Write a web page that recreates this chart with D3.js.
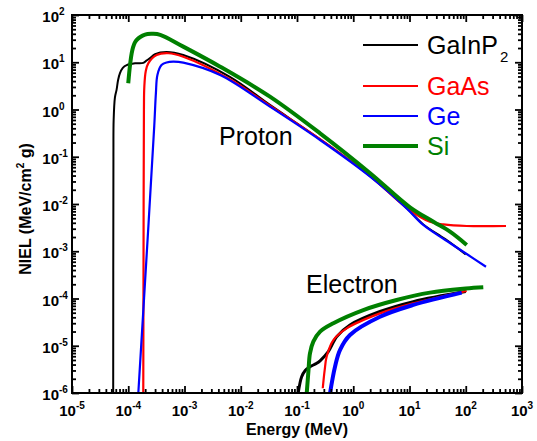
<!DOCTYPE html>
<html>
<head>
<meta charset="utf-8">
<script src="https://cdn.jsdelivr.net/npm/d3@7"></script>
<style>
body { margin:0; background:#fff; }
svg text { font-family: "Liberation Sans", Arial, sans-serif; }
</style>
</head>
<body>
<div id="chart"></div>
<script>
// proton NIEL curves [energy MeV, NIEL]
var protonGaInP2 = [[5.4e-5,1e-6],[5.45e-5,0.1],[5.5e-5,0.6],[5.8e-5,1.8],[6.2e-5,2.6],[6.6e-5,4.2],[7.1e-5,5.8],[8e-5,7.6],[9.4e-5,8.7],[1.32e-4,9.5],[1.85e-4,9.7],[2.1e-4,10.8],[2.44e-4,12.2],[3e-4,14.9],[4.8e-4,16.5],[9.5e-4,14.2],[6.4e-3,4.9],[0.033,1.25],[0.257,0.235],[2.0,0.039],[8.9,8.2e-3],[17.6,3.7e-3],[43.3,1.8e-3],[100,8.6e-4]];
var protonGaAs = [[1.85e-4,1e-6],[1.87e-4,1e-3],[1.9e-4,1.0],[1.93e-4,3.0],[2.05e-4,6.5],[2.27e-4,9.5],[3.2e-4,14.2],[5.15e-4,15.5],[9.5e-4,13.1],[6.4e-3,4.36],[0.033,1.2],[0.257,0.235],[2.0,0.039],[8.9,8.3e-3],[23,4.2e-3],[40,3.7e-3],[104,3.42e-3],[520,3.42e-3]];
var protonGe = [[1.51e-4,1e-6],[2.3e-4,4e-3],[2.9e-4,0.45],[3.1e-4,2.2],[3.3e-4,5.4],[3.9e-4,8.7],[4.8e-4,9.9],[6.3e-4,10.3],[9.5e-4,9.8],[4.3e-3,5.37],[0.033,1.15],[0.257,0.226],[2.0,0.038],[8.9,8.1e-3],[17.6,3.6e-3],[43.3,1.73e-3],[104,8.75e-4],[229,4.7e-4]];
var protonSi = [[1.0e-4,3.6],[1.04e-4,6],[1.09e-4,10],[1.15e-4,15.5],[1.22e-4,21],[1.32e-4,26.5],[1.51e-4,32],[1.8e-4,36.5],[2.2e-4,39.5],[2.7e-4,40],[3.7e-4,38],[9.5e-4,21.4],[4.3e-3,8.05],[0.033,1.87],[0.257,0.313],[2.0,0.0447],[10.2,8.5e-3],[26.6,4.2e-3],[52.5,2.6e-3],[104,1.36e-3]];

// electron NIEL curves
var electronGaInP2 = [[0.105,1e-6],[0.121,2.2e-6],[0.14,3e-6],[0.17,3.6e-6],[0.22,4.2e-6],[0.257,4.8e-6],[0.36,7.5e-6],[0.51,1.56e-5],[0.875,2.75e-5],[2.99,5.3e-5],[11.7,8.6e-5],[100,1.4e-4]];
var electronGaAs = [[0.287,1.26e-6],[0.31,3e-6],[0.337,5.9e-6],[0.443,1.32e-5],[0.764,2.34e-5],[2.99,4.85e-5],[11.7,7.9e-5],[104,1.44e-4]];
var electronGe = [[0.387,1e-6],[0.474,3.6e-6],[0.58,8.1e-6],[0.875,1.69e-5],[2.99,4.1e-5],[11.7,7.3e-5],[84.7,1.33e-4]];
var electronSi = [[0.149,1e-6],[0.16,3e-6],[0.17,6.9e-6],[0.195,1.22e-5],[0.257,1.99e-5],[0.443,3.0e-5],[1.51,5.7e-5],[5.9,9.3e-5],[23.1,1.33e-4],[100,1.62e-4],[205,1.72e-4]];

var legendNames = ["GaInP", "GaAs", "Ge", "Si"];
var colors = ["#000000", "#ff0000", "#0000ff", "#008000"];
var xMajor = [1e-5,1e-4,1e-3,1e-2,1e-1,1e0,1e1,1e2,1e3];
var yMajor = [1e-6,1e-5,1e-4,1e-3,1e-2,1e-1,1e0,1e1,1e2];

var W = 537, H = 441;
var padL = 72, padR = 522, padT = 15, padB = 393;

var svg = d3.select("#chart").append("svg").attr("width", W).attr("height", H);

var x = d3.scaleLog().domain([1e-5, 1e3]).range([padL, padR]);
var y = d3.scaleLog().domain([1e-6, 1e2]).range([padB, padT]);

// minor ticks 2..9 per decade
function minors(major){
	var m = [];
	for(var i = 0; i < major.length - 1; i++){
		for(var k = 2; k < 10; k++) m.push(major[i]*k);
	}
	return m;
}
var xMinor = minors(xMajor), yMinor = minors(yMajor);

svg.append("defs").append("clipPath").attr("id","clip")
	.append("rect").attr("x",padL).attr("y",padT).attr("width",padR-padL).attr("height",padB-padT);

var line = d3.line()
	.x(function(d){ return x(d[0]); })
	.y(function(d){ return y(d[1]); })
	.curve(d3.curveCatmullRom.alpha(0.5));

var plot = svg.append("g").attr("clip-path","url(#clip)");
function drawCurve(data, color, w){
	plot.append("path").datum(data)
		.attr("d", line)
		.attr("fill","none")
		.attr("stroke", color)
		.attr("stroke-width", w)
		.attr("stroke-linejoin","round");
}
drawCurve(protonGaInP2, colors[0], 2);
drawCurve(protonGaAs, colors[1], 2.2);
drawCurve(protonGe, colors[2], 2.2);
drawCurve(protonSi, colors[3], 4);
drawCurve(electronGaInP2, colors[0], 3);
drawCurve(electronGaAs, colors[1], 2.2);
drawCurve(electronGe, colors[2], 4);
drawCurve(electronSi, colors[3], 4);

// axes: ticks pointing inward
function tickAxis(axisFn, scale, vals, size, tx, ty){
	var g = svg.append("g").attr("transform","translate("+tx+","+ty+")")
		.call(axisFn(scale).tickValues(vals).tickSize(size).tickFormat(""));
	g.select(".domain").remove();
	g.selectAll(".tick line").attr("stroke","#000").attr("stroke-width",1.8);
	return g;
}
tickAxis(d3.axisBottom, x, xMajor, -7, 0, padB);
tickAxis(d3.axisBottom, x, xMinor, -4, 0, padB);
tickAxis(d3.axisTop, x, xMajor, -7, 0, padT);
tickAxis(d3.axisTop, x, xMinor, -4, 0, padT);
tickAxis(d3.axisLeft, y, yMajor, -7, padL, 0);
tickAxis(d3.axisLeft, y, yMinor, -4, padL, 0);
tickAxis(d3.axisRight, y, yMajor, -7, padR, 0);
tickAxis(d3.axisRight, y, yMinor, -4, padR, 0);

svg.append("rect").attr("x",padL).attr("y",padT).attr("width",padR-padL).attr("height",padB-padT)
	.attr("fill","none").attr("stroke","#000").attr("stroke-width",2);

// tick labels
xMajor.forEach(function(v){
	var t = svg.append("text").attr("x", x(v)).attr("y", 416)
		.attr("text-anchor","middle").attr("font-size",15).attr("font-weight","bold");
	t.append("tspan").text("10");
	t.append("tspan").attr("dy",-7).attr("font-size",10).text(Math.round(Math.log10(v)));
});
yMajor.forEach(function(v){
	var py = y(v) + 7;
	svg.append("text").attr("x", 59).attr("y", py)
		.attr("text-anchor","end").attr("font-size",15).attr("font-weight","bold").text("10");
	svg.append("text").attr("x", 59).attr("y", py - 7)
		.attr("font-size",10).attr("font-weight","bold").text(Math.round(Math.log10(v)));
});

// axis titles
svg.append("text").attr("x", 297).attr("y", 435).attr("text-anchor","middle")
	.attr("font-size",16).attr("font-weight","bold").text("Energy (MeV)");
var yt = svg.append("text").attr("transform","translate(31,209) rotate(-90)")
	.attr("text-anchor","middle").attr("font-size",16).attr("font-weight","bold");
yt.append("tspan").text("NIEL (MeV/cm");
yt.append("tspan").attr("dy",-7).attr("font-size",10).text("2");
yt.append("tspan").attr("dy",7).text(" g)");

// curve labels
svg.append("text").attr("x",219).attr("y",145).attr("font-size",25).text("Proton");
svg.append("text").attr("x",306).attr("y",293).attr("font-size",25).text("Electron");

// legend
var legY = [45, 86, 116, 146];
var legW = [2, 2.2, 2.2, 4];
legendNames.forEach(function(n, i){
	svg.append("line").attr("x1",363).attr("x2",418).attr("y1",legY[i]).attr("y2",legY[i])
		.attr("stroke",colors[i]).attr("stroke-width",legW[i]);
	var t = svg.append("text").attr("x",427).attr("y",legY[i]+9).attr("font-size",25).attr("fill",colors[i]).text(n);
	if(i == 0) t.append("tspan").attr("dy",8).attr("dx",2).attr("font-size",15).text("2");
});
</script>
</body>
</html>
